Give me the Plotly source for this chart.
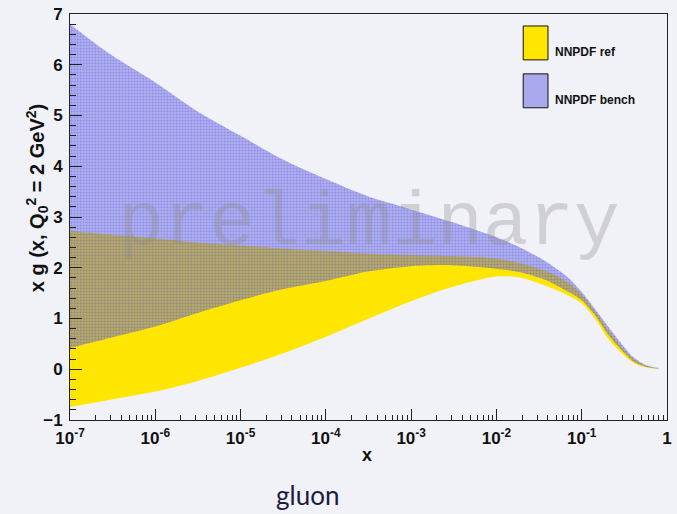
import plotly.graph_objects as go

# x grid (log scale) and the two uncertainty bands of x*g(x, Q0^2 = 2 GeV^2)
x_vals = [1e-7, 3e-7, 1e-6, 3e-6, 1e-5, 3e-5, 1e-4, 3e-4, 1e-3, 3e-3,
          1e-2, 2e-2, 4e-2, 7e-2, 0.1, 0.15, 0.2, 0.3, 0.4, 0.5, 0.6, 0.7, 0.8]

ref_lo = [-0.74, -0.60, -0.44, -0.24, 0.03, 0.30, 0.64, 0.98, 1.34, 1.62,
          1.83, 1.80, 1.63, 1.45, 1.30, 0.95, 0.62, 0.30, 0.13, 0.06, 0.03, 0.015, 0.01]
ref_hi = [2.73, 2.65, 2.58, 2.50, 2.44, 2.38, 2.33, 2.28, 2.25, 2.23,
          2.18, 2.08, 1.92, 1.70, 1.47, 1.10, 0.80, 0.42, 0.21, 0.11, 0.06, 0.03, 0.02]

bench_lo = [0.42, 0.62, 0.84, 1.10, 1.36, 1.57, 1.74, 1.92, 2.03, 2.05,
            1.98, 1.90, 1.74, 1.52, 1.36, 1.02, 0.70, 0.36, 0.16, 0.08, 0.04, 0.02, 0.012]
bench_hi = [6.80, 6.20, 5.65, 5.10, 4.60, 4.15, 3.75, 3.42, 3.15, 2.90,
            2.60, 2.38, 2.10, 1.80, 1.52, 1.14, 0.86, 0.48, 0.24, 0.13, 0.07, 0.04, 0.025]

x_tickvals = [1e-7, 1e-6, 1e-5, 1e-4, 1e-3, 1e-2, 1e-1, 1]
x_ticktext = ["10<sup>-7</sup>", "10<sup>-6</sup>", "10<sup>-5</sup>", "10<sup>-4</sup>",
              "10<sup>-3</sup>", "10<sup>-2</sup>", "10<sup>-1</sup>", "1"]
y_tickvals = [-1, 0, 1, 2, 3, 4, 5, 6, 7]

BG = "#f1f1f8"
YELLOW = "#ffe600"
BLUE_DOT = "rgba(55,55,210,0.6)"
BLUE_BASE = "rgba(95,95,232,0.45)"
LAVENDER = "#a9a9ee"
FONT = "Liberation Sans"

fig = go.Figure()


def add_band(lo, hi, **fill_kw):
    """Fill the region between a lower and an upper smooth curve."""
    line = dict(width=0, shape="spline", smoothing=0.8)
    fig.add_trace(go.Scatter(x=x_vals, y=lo, mode="lines", line=line,
                             hoverinfo="skip", showlegend=False))
    fig.add_trace(go.Scatter(x=x_vals, y=hi, mode="lines", line=line, fill="tonexty",
                             hoverinfo="skip", showlegend=False, **fill_kw))


# NNPDF ref band (solid yellow)
add_band(ref_lo, ref_hi, fillcolor=YELLOW)

# NNPDF bench band (fine blue hatch drawn on top)
add_band(bench_lo, bench_hi, fillcolor=BLUE_BASE,
         fillpattern=dict(shape=".", fgcolor=BLUE_DOT, bgcolor=BLUE_BASE,
                          size=3, solidity=0.35))

axis_common = dict(
    showline=True, linecolor="#222222", linewidth=1, mirror=True,
    showgrid=False, zeroline=False, ticks="inside", tickcolor="#222222",
    tickfont=dict(family=FONT, size=17, color="#111111", weight="bold"),
)

fig.update_xaxes(
    type="log", range=[-7, 0],
    tickvals=x_tickvals, ticktext=x_ticktext, ticklen=11, tickwidth=1,
    ticklabelstandoff=3,
    minor=dict(ticks="inside", ticklen=5, tickcolor="#222222", dtick="D1", showgrid=False),
    **axis_common,
)
fig.update_yaxes(
    range=[-1, 7], tickvals=y_tickvals, ticklen=12, tickwidth=1,
    ticklabelstandoff=3,
    minor=dict(ticks="inside", ticklen=6, tickcolor="#222222", dtick=0.2, showgrid=False),
    **axis_common,
)

annotations = [
    # watermark
    dict(x=0.5, y=0.482, xref="paper", yref="paper", text="preliminary", showarrow=False,
         font=dict(family="Liberation Mono", size=76, color="rgba(140,140,140,0.33)")),
    # axis titles
    dict(x=0.497, y=-0.115, xref="paper", yref="paper", text="<b>x</b>", showarrow=False,
         font=dict(family=FONT, size=18, color="#111111")),
    dict(x=-0.082, y=0.545, xref="paper", yref="paper",
         text="<b>x g (x, Q<sub>0</sub><sup>2</sup> = 2 GeV<sup>2</sup>)</b>",
         showarrow=False, textangle=-90,
         font=dict(family=FONT, size=20, color="#111111")),
    # caption below the chart
    dict(x=0.397, y=-0.229, xref="paper", yref="paper", text="gluon", showarrow=False,
         font=dict(family="Lato", size=26, color="#1c1c3c")),
]

# legend drawn in pixel terms converted to paper coordinates
L, R, T, B = 70, 672, 13, 420
W, H = R - L, B - T

def px(xp):
    return (xp - L) / W

def py(yp):
    return 1 - (yp - T) / H

legend_items = [("NNPDF ref", YELLOW, 25, 59), ("NNPDF bench", LAVENDER, 73, 107)]
shapes = []
for label, color, y0, y1 in legend_items:
    shapes.append(dict(type="rect", xref="paper", yref="paper",
                       x0=px(527), x1=px(552), y0=py(y1), y1=py(y0),
                       fillcolor=color, line=dict(color="#111111", width=1)))
    annotations.append(dict(x=px(557), y=py((y0 + y1) / 2), xref="paper", yref="paper",
                            text="<b>%s</b>" % label, showarrow=False, xanchor="left",
                            font=dict(family=FONT, size=12, color="#111111")))

fig.update_layout(
    width=677, height=514,
    margin=dict(l=L, r=677 - R, t=T, b=514 - B),
    paper_bgcolor=BG, plot_bgcolor=BG,
    annotations=annotations, shapes=shapes,
    showlegend=False,
)

fig.write_html("out.html")
